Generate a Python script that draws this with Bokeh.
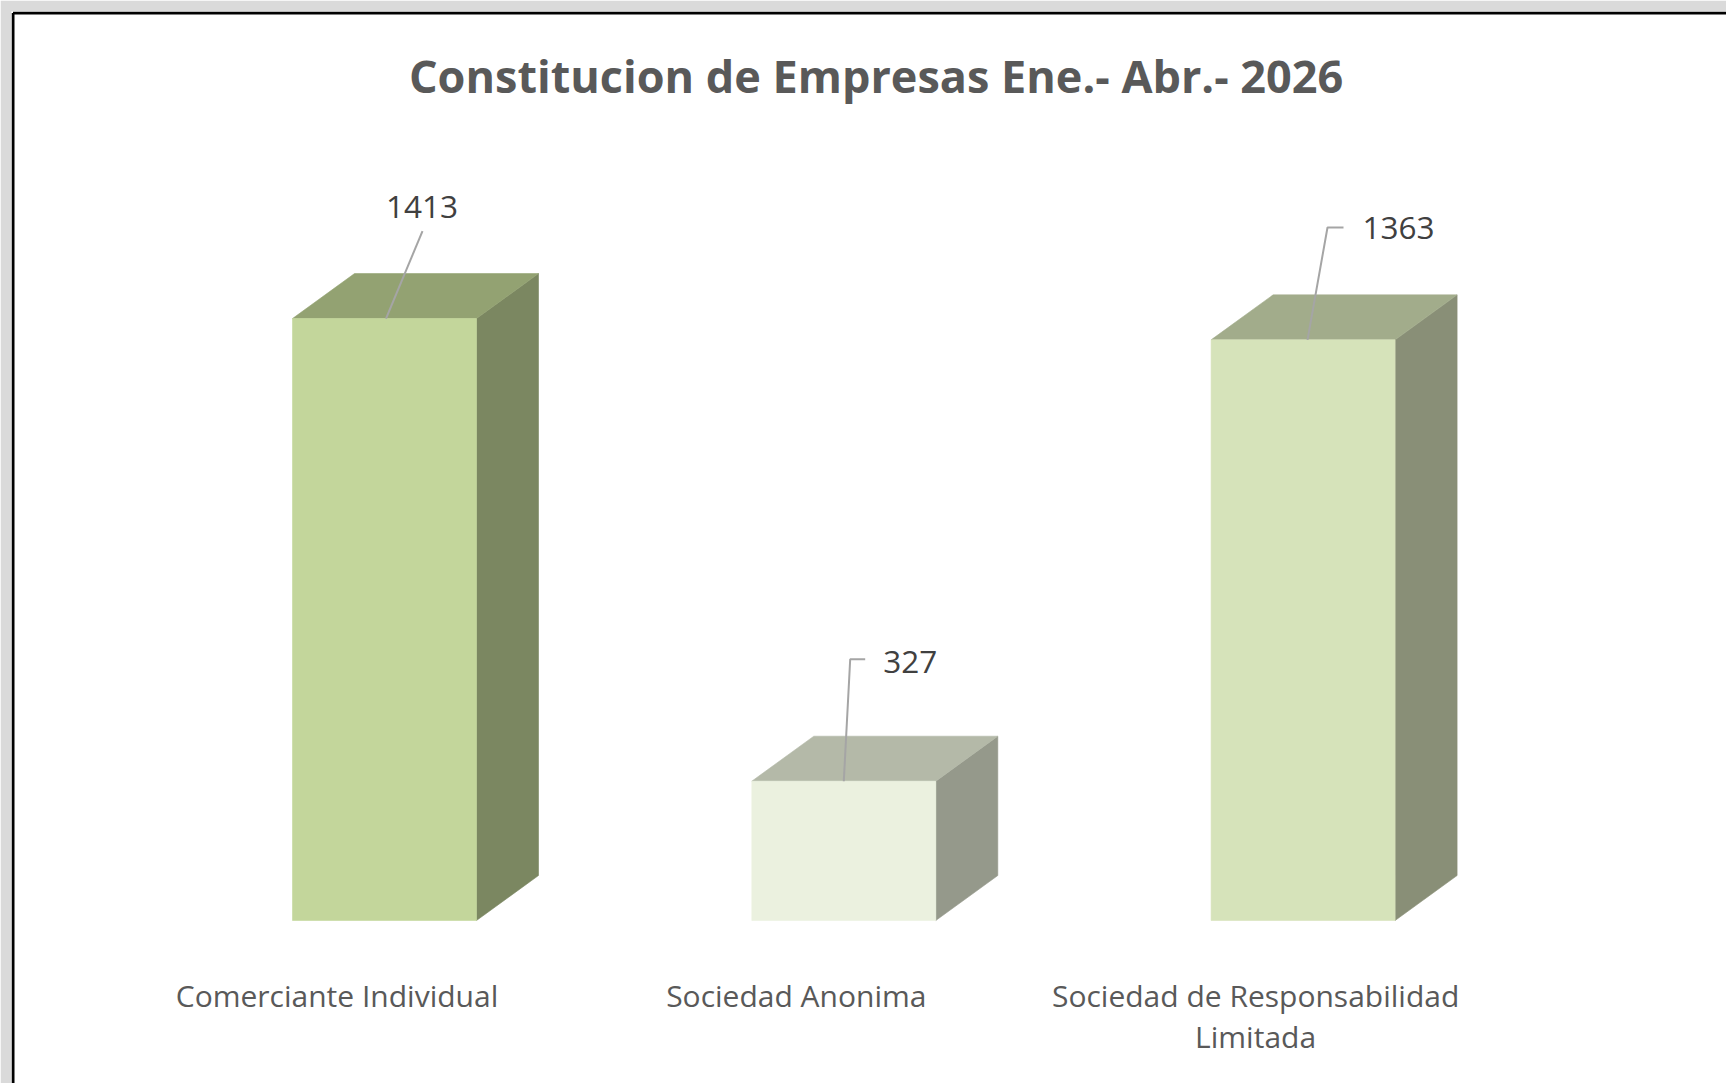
import textwrap
from bokeh.plotting import figure
from bokeh.models import Range1d, Label
from bokeh.embed import file_html
from bokeh.resources import INLINE
from bokeh.core.properties import value

# ---------------- data ----------------
title_text = "Constitucion de Empresas Ene.- Abr.- 2026"
categories = ["Comerciante Individual", "Sociedad Anonima", "Sociedad de Responsabilidad Limitada"]
values = [1413, 327, 1363]

# ---------------- styles ----------------
front_colors = ["#C3D69B", "#EBF1DF", "#D6E3BA"]
top_colors = ["#93A272", "#B4B9A8", "#A2AC8B"]
side_colors = ["#7B8761", "#95998B", "#898F77"]

# ---------------- layout (pixels) ----------------
W, H = 1726, 1083
PAGE_OFF = 0
FRAME_LEFT = 11          # page px
FRAME_TOP = 11           # page px
X0 = 384.0               # page x of first bar's front-face centre
XSTEP = 459.3            # px between categories
Y0 = 920.0               # page y of value 0
YS = 0.426               # px per unit

def ux(px):
    return px / XSTEP

def uy(px):
    return px / YS

def dpx(page_x):
    return (page_x - X0) / XSTEP

def dpy(page_y):
    return (Y0 - page_y) / YS

x_range = Range1d(dpx(FRAME_LEFT), dpx(PAGE_OFF + W))
y_range = Range1d(dpy(PAGE_OFF + H), dpy(FRAME_TOP))

p = figure(width=W, height=H, x_range=x_range, y_range=y_range,
           output_backend="svg", toolbar_location=None,
           x_axis_location=None, y_axis_location=None,
           min_border_left=FRAME_LEFT - PAGE_OFF, min_border_top=FRAME_TOP - PAGE_OFF,
           min_border_right=0, min_border_bottom=0,
           background_fill_color="white", border_fill_color="#DADADA",
           outline_line_color=None)
p.grid.visible = False

idx = list(range(len(categories)))
half = ux(92)
ddx = ux(62)
ddy = uy(45)

left = [i - half for i in idx]
right = [i + half for i in idx]

# side faces
p.patches(xs=[[r, r + ddx, r + ddx, r] for r in right],
          ys=[[0, ddy, v + ddy, v] for v in values],
          fill_color=side_colors, line_color=side_colors, line_width=0.6)
# top faces
p.patches(xs=[[l, r, r + ddx, l + ddx] for l, r in zip(left, right)],
          ys=[[v, v, v + ddy, v + ddy] for v in values],
          fill_color=top_colors, line_color=top_colors, line_width=0.6)
# front faces
p.quad(left=left, right=right, bottom=0, top=values,
       fill_color=front_colors, line_color=front_colors, line_width=0.6)

# leader lines (offsets in px from front-face top centre)
leader_px = [
    [(38, 87.5), (1.5, 0)],
    [(21.4, 122), (6.4, 122), (0, 0)],
    [(40.4, 112.4), (24.4, 112.4), (4.4, 0)],
]
p.multi_line(xs=[[i + ux(a) for a, b in pts] for i, pts in zip(idx, leader_px)],
             ys=[[v + uy(b) for a, b in pts] for v, pts in zip(values, leader_px)],
             line_color="#A5A5A5", line_width=2)

# value labels
label_off = [(37.5, 112), (66.4, 119), (95.4, 111.4)]
p.text(x=[i + ux(a) for i, (a, b) in zip(idx, label_off)],
       y=[v + uy(b) for v, (a, b) in zip(values, label_off)],
       text=[str(v) for v in values],
       text_font=value("Open Sans"), text_font_size="31.5px", text_color="#404040",
       text_align="center", text_baseline="middle")

# category labels (wrapped)
cx, cy, ct = [], [], []
for i, c in zip(idx, categories):
    for k, line in enumerate(textwrap.wrap(c, 28)):
        cx.append(i - ux(47.5))
        cy.append(dpy(995) - uy(41) * k)
        ct.append(line)
p.text(x=cx, y=cy, text=ct, text_font=value("Open Sans"), text_font_size="30px",
       text_color="#595959", text_align="center", text_baseline="middle")

# title
p.add_layout(Label(x=dpx(875.6), y=dpy(75), text=title_text,
                   text_font="Open Sans", text_font_style="bold", text_font_size="45px",
                   text_color="#595959", text_align="center", text_baseline="middle"))

# chart-area border (left and top)
bx = dpx(12.5)
by = dpy(12.5)
p.segment(x0=[bx, bx], y0=[dpy(PAGE_OFF + H), by], x1=[bx, dpx(PAGE_OFF + W)], y1=[by, by],
          line_color="#000000", line_width=3)

open("out.html", "w").write(file_html(p, INLINE))
